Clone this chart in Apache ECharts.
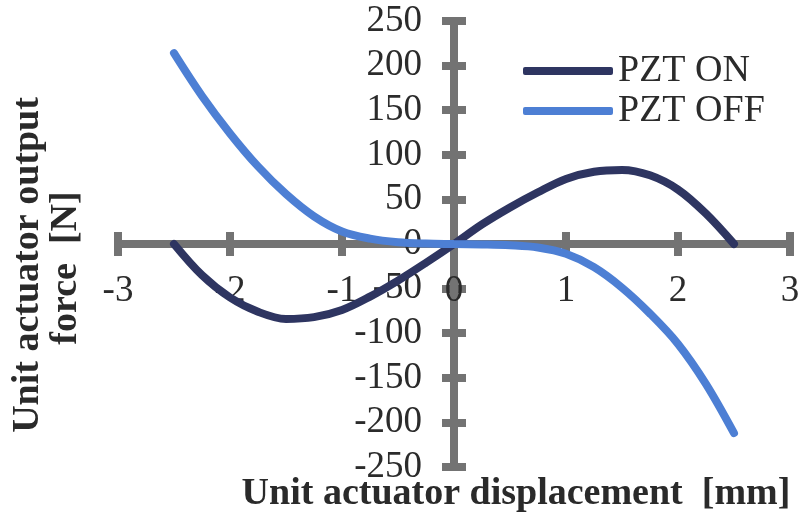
<!DOCTYPE html>
<html>
<head>
<meta charset="utf-8">
<script src="https://cdn.jsdelivr.net/npm/echarts@6/dist/echarts.min.js"></script>
<style>
  html, body { margin: 0; padding: 0; background: #fff; }
  #chart { width: 799px; height: 520px; }
</style>
</head>
<body>
<div id="chart"></div>
<script>
// Unit actuator force vs displacement, with and without the PZT stack energised
const displacement = [-2.5, -2.25, -2, -1.75, -1.5, -1.25, -1, -0.75, -0.5, -0.25, 0,
                      0.25, 0.5, 0.75, 1, 1.25, 1.5, 1.75, 2, 2.25, 2.5];
const forcePztOn  = [0, -35, -60, -76, -84, -82, -74, -59, -41, -21, 0,
                     22, 41, 58, 73, 81, 83, 77, 61, 34, 0];
const forcePztOff = [214, 166, 124, 87, 56, 31, 14, 6, 2, 0.5, 0,
                     -0.5, -1.5, -4, -11, -26, -49, -78, -112, -157, -212];
const seriesNames = ['PZT ON', 'PZT OFF'];
const xTitle = 'Unit actuator displacement  [mm]';
const yTitleLines = ['Unit actuator output', 'force  [N]'];

const serif = "'Liberation Serif', 'Times New Roman', serif";
const axisGray = '#737373';
const onColor = '#2e3561';
const offColor = '#4d7fd4';

// Plot area; both ranges are symmetric, so the origin sits at its centre.
const grid = { left: 118, right: 9, top: 21, bottom: 53 };
const plotW = 799 - grid.left - grid.right;
const plotH = 520 - grid.top - grid.bottom;

const pairs = (xs, ys) => xs.map((x, i) => [x, ys[i]]);

// Each dimension gets two axes pulled in to the origin: one carries the
// labels and ticks on one side of the line, the other the opposite ticks,
// so the tick marks straddle the axis line.
const lineStyle = { color: axisGray, width: 8 };
const labelStyle = { fontFamily: serif, fontSize: 37, color: '#2b2b2b' };
function xAxisDef(position, labels) {
  return {
    type: 'value', position, offset: -plotH / 2, min: -3, max: 3, interval: 1,
    axisLine: { show: true, onZero: false, lineStyle },
    axisTick: { show: true, inside: true, length: 12, lineStyle },
    axisLabel: labels ? Object.assign({ margin: 29 }, labelStyle) : { show: false },
    splitLine: { show: false }
  };
}
function yAxisDef(position, labels) {
  return {
    type: 'value', position, offset: -plotW / 2, min: -250, max: 250, interval: 50,
    axisLine: { show: true, onZero: false, lineStyle },
    axisTick: { show: true, inside: true, length: 12, lineStyle },
    axisLabel: labels ? Object.assign({ margin: 32 }, labelStyle) : { show: false },
    splitLine: { show: false }
  };
}

const chart = echarts.init(document.getElementById('chart'), null, { renderer: 'canvas' });
chart.setOption({
  animation: false,
  backgroundColor: '#fff',
  grid: Object.assign({ containLabel: false, outerBoundsMode: 'none' }, grid),
  xAxis: [xAxisDef('bottom', true), xAxisDef('top', false)],
  yAxis: [yAxisDef('left', true), yAxisDef('right', false)],
  legend: {
    left: 518, top: 47, orient: 'vertical',
    icon: 'roundRect',
    itemWidth: 90, itemHeight: 8, itemGap: 2,
    textStyle: { fontFamily: serif, fontSize: 38, color: '#2b2b2b', lineHeight: 38 },
    data: seriesNames
  },
  series: [
    {
      name: seriesNames[0], type: 'line', smooth: 0.35, symbol: 'none',
      xAxisIndex: 0, yAxisIndex: 0,
      lineStyle: { color: onColor, width: 8, cap: 'round' },
      itemStyle: { color: onColor },
      data: pairs(displacement, forcePztOn)
    },
    {
      name: seriesNames[1], type: 'line', smooth: 0.35, symbol: 'none',
      xAxisIndex: 0, yAxisIndex: 0,
      lineStyle: { color: offColor, width: 8, cap: 'round' },
      itemStyle: { color: offColor },
      data: pairs(displacement, forcePztOff)
    }
  ],
  graphic: [
    {
      type: 'text', x: 516, y: 494,
      style: { text: xTitle, font: 'bold 38px ' + serif, fill: '#2a2a2a', align: 'center', verticalAlign: 'middle' }
    },
    {
      type: 'text', x: 28, y: 265, rotation: Math.PI / 2,
      style: { text: yTitleLines[0], font: 'bold 38px ' + serif, fill: '#2a2a2a', align: 'center', verticalAlign: 'middle' }
    },
    {
      type: 'text', x: 66, y: 268, rotation: Math.PI / 2,
      style: { text: yTitleLines[1], font: 'bold 38px ' + serif, fill: '#2a2a2a', align: 'center', verticalAlign: 'middle' }
    }
  ]
});
</script>
</body>
</html>
